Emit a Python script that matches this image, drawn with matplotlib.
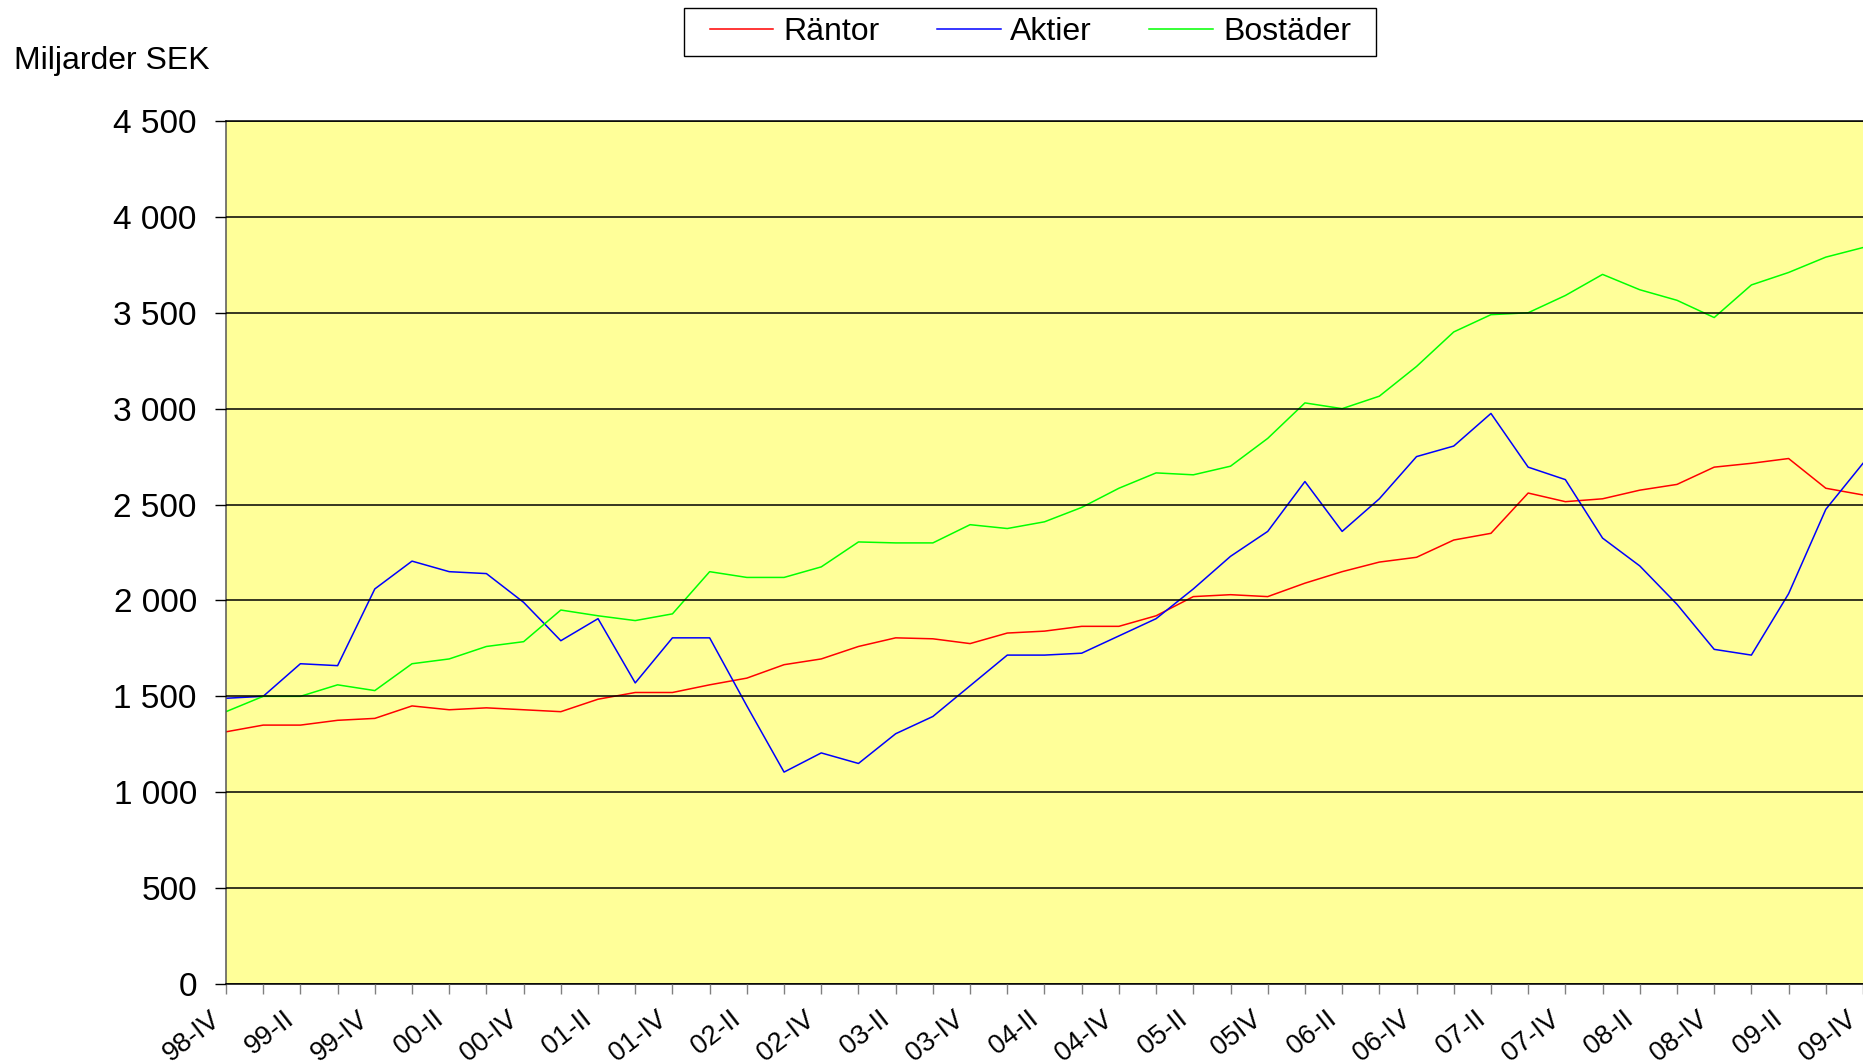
import matplotlib.pyplot as plt
import matplotlib.transforms as mtransforms
from matplotlib.patches import Rectangle
from matplotlib.ticker import FuncFormatter

plt.rcParams["font.family"] = ["Liberation Sans", "DejaVu Sans"]

# =====================================
# Data (Miljarder SEK), one value per quarter 98-IV .. 09-IV
# =====================================
tick_labels = [
    "98-IV", "99-II", "99-IV", "00-II", "00-IV", "01-II", "01-IV", "02-II",
    "02-IV", "03-II", "03-IV", "04-II", "04-IV", "05-II", "05IV", "06-II",
    "06-IV", "07-II", "07-IV", "08-II", "08-IV", "09-II", "09-IV",
]

rantor = [
    1315, 1350, 1350, 1375, 1385, 1450, 1430, 1440, 1430, 1420,
    1485, 1520, 1520, 1560, 1595, 1665, 1695, 1760, 1805, 1800,
    1775, 1830, 1840, 1865, 1865, 1920, 2020, 2030, 2020, 2090,
    2150, 2200, 2225, 2315, 2350, 2560, 2515, 2530, 2575, 2605,
    2695, 2715, 2740, 2585, 2550,
]

aktier = [
    1490, 1500, 1670, 1660, 2060, 2205, 2150, 2140, 1990, 1790,
    1905, 1570, 1805, 1805, 1450, 1105, 1205, 1150, 1305, 1395,
    1555, 1715, 1715, 1725, 1815, 1905, 2060, 2230, 2360, 2620,
    2360, 2530, 2750, 2805, 2975, 2695, 2630, 2325, 2180, 1980,
    1745, 1715, 2035, 2475, 2715,
]

bostader = [
    1420, 1500, 1500, 1560, 1530, 1670, 1695, 1760, 1785, 1950,
    1920, 1895, 1930, 2150, 2120, 2120, 2175, 2305, 2300, 2300,
    2395, 2375, 2410, 2485, 2585, 2665, 2655, 2700, 2845, 3030,
    3000, 3065, 3220, 3400, 3490, 3500, 3590, 3700, 3620, 3565,
    3475, 3645, 3710, 3790, 3840,
]

x = list(range(len(rantor)))

# =====================================
# Figure
# =====================================
fig = plt.figure(figsize=(18.63, 10.63), dpi=100)
ax = fig.add_axes([0.1213, 0.0743, 0.8787, 0.8119])
ax.set_facecolor("#ffff99")

ax.plot(x, rantor, color="#ff0000", linewidth=1.1, label="Räntor")
ax.plot(x, aktier, color="#0000ff", linewidth=1.1, label="Aktier")
ax.plot(x, bostader, color="#00ff00", linewidth=1.1, label="Bostäder")

ax.set_xlim(0, len(x) - 1)
ax.set_ylim(0, 4500)

# y axis
ax.set_yticks(range(0, 4501, 500))
ax.yaxis.set_major_formatter(FuncFormatter(lambda v, p: f"{v:,.0f}".replace(",", " ")))
ax.tick_params(axis="y", labelsize=24, length=8, width=1, pad=13, color="black")
ax.yaxis.grid(True, color="black", linewidth=1.1)
ax.set_axisbelow(False)

# x axis: tick every quarter, label every second
ax.set_xticks(x, minor=True)
ax.set_xticks(x[::2])
ax.set_xticklabels(tick_labels, rotation=38, ha="right", va="top",
                   rotation_mode="anchor")
ax.tick_params(axis="x", which="both", length=7, width=1, color="#808080",
               labelsize=19.5, pad=9)
offset = mtransforms.ScaledTranslation(-0.17, 0, fig.dpi_scale_trans)
for lab in ax.get_xticklabels():
    lab.set_transform(lab.get_transform() + offset)

ax.spines["right"].set_visible(False)
ax.spines["top"].set_color("black")
ax.spines["bottom"].set_color("black")
ax.spines["left"].set_color("#555555")
for s in ax.spines.values():
    s.set_linewidth(1.1)

fig.text(0.0075, 0.9425, "Miljarder SEK", fontsize=23, va="center", ha="left")

# legend without own frame, box drawn separately (wider padding)
leg = fig.legend(loc="center", bbox_to_anchor=(0.553, 0.970), ncol=3,
                 fontsize=23, frameon=False,
                 handlelength=2.0, handletextpad=0.3, columnspacing=1.8,
                 borderpad=0.25, borderaxespad=0)
fig.patches.append(Rectangle((0.3672, 0.9473), 0.3714, 0.0452,
                             transform=fig.transFigure, fill=False,
                             edgecolor="black", linewidth=1.0))

fig.savefig("out.png", dpi=100)
